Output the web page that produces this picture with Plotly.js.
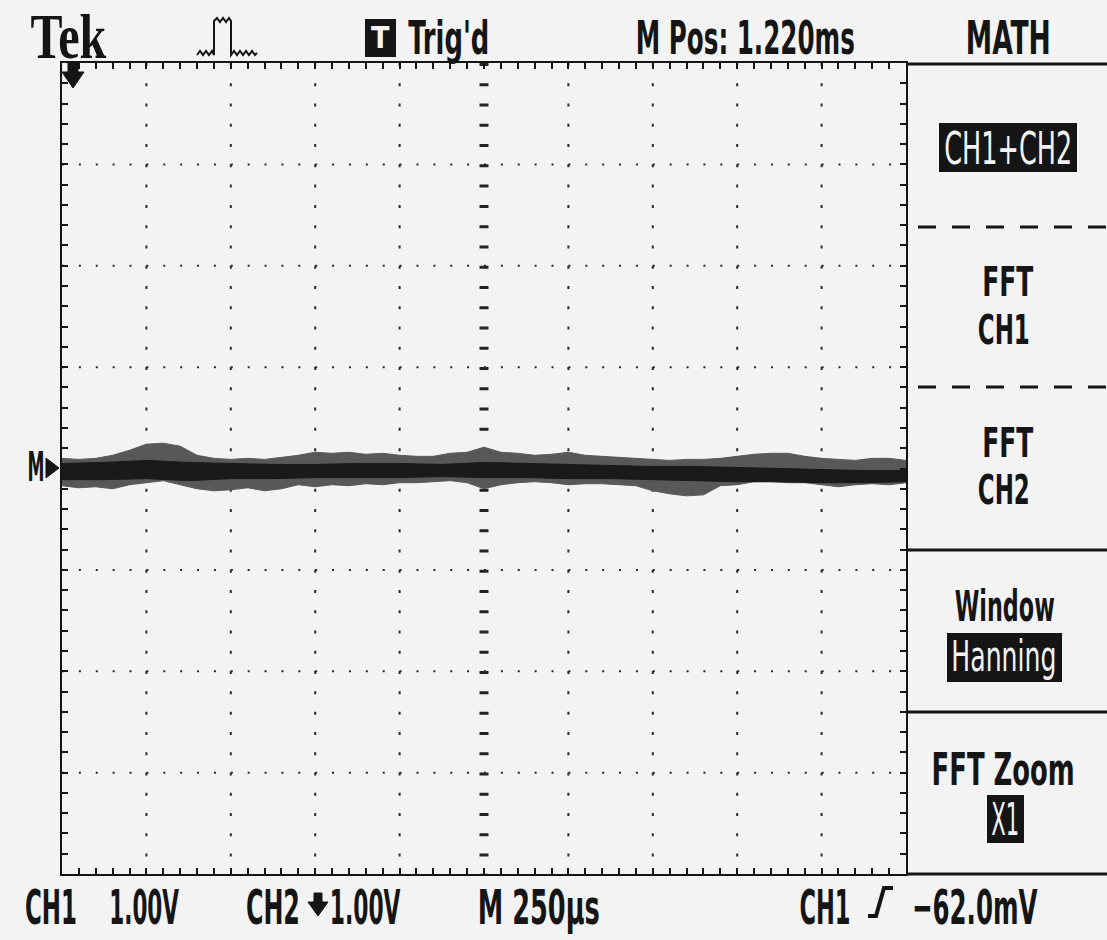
<!DOCTYPE html>
<html>
<head>
<meta charset="utf-8">
<script src="https://cdn.plot.ly/plotly-3.0.1.min.js"></script>
<style>
  html, body { margin: 0; padding: 0; background: #f3f3f3; }
  #scope { width: 1107px; height: 940px; }
</style>
</head>
<body>
<div id="scope"></div>
<script>
// ---- acquired trace (MATH: CH1+CH2), 250 us/div, 1 V/div ----
// noise envelope, sampled every 50 us across the 10 divisions
const envTime  = [0,50,100,150,200,250,300,350,400,450,500,550,600,650,700,750,800,850,900,950,
                  1000,1050,1100,1150,1200,1250,1300,1350,1400,1450,1500,1550,1600,1650,1700,1750,
                  1800,1850,1900,1950,2000,2050,2100,2150,2200,2250,2300,2350,2400,2450,2500];
const envUpper = [0.10,0.09,0.10,0.13,0.18,0.24,0.25,0.22,0.13,0.10,0.09,0.10,0.09,0.11,0.13,0.16,0.15,
                  0.16,0.14,0.15,0.13,0.12,0.12,0.15,0.16,0.21,0.16,0.15,0.13,0.14,0.16,0.13,0.12,0.11,
                  0.10,0.09,0.08,0.09,0.09,0.10,0.12,0.14,0.15,0.15,0.12,0.10,0.09,0.08,0.10,0.10,0.08];
const envLower = [-0.17,-0.19,-0.18,-0.20,-0.16,-0.14,-0.12,-0.16,-0.20,-0.22,-0.21,-0.19,-0.22,-0.20,
                  -0.16,-0.18,-0.16,-0.17,-0.15,-0.16,-0.14,-0.14,-0.13,-0.12,-0.14,-0.20,-0.16,-0.14,
                  -0.13,-0.14,-0.16,-0.15,-0.15,-0.16,-0.17,-0.22,-0.25,-0.27,-0.26,-0.17,-0.16,-0.13,
                  -0.13,-0.14,-0.14,-0.16,-0.18,-0.16,-0.15,-0.16,-0.14];
// dense core of the trace, sampled every 125 us
const coreTime  = [0,125,250,375,500,625,750,875,1000,1125,1250,1375,1500,1625,1750,1875,2000,2125,2250,2375,2500];
const coreUpper = [0.05,0.06,0.08,0.06,0.05,0.04,0.04,0.05,0.05,0.04,0.06,0.05,0.04,0.03,0.02,0.02,0.01,0.00,-0.01,-0.02,-0.02];
const coreLower = [-0.11,-0.11,-0.10,-0.12,-0.10,-0.10,-0.09,-0.09,-0.09,-0.08,-0.09,-0.09,-0.10,-0.10,-0.11,-0.12,-0.13,-0.13,-0.14,-0.14,-0.13];

// ---- screen readouts ----
const brand       = 'Tek';
const trigState   = "Trig'd";
const horizPos    = 'M Pos: 1.220ms';
const menuTitle   = 'MATH';
const ch1Name     = 'CH1';
const ch1Scale    = '1.00V';
const ch2Name     = 'CH2';
const ch2Scale    = '1.00V';
const timebase    = 'M 250\u00b5s';
const trigSource  = 'CH1';
const trigLevel   = '\u221262.0mV';
const menuItems   = ['CH1+CH2', 'FFT', 'CH1', 'FFT', 'CH2', 'Window', 'Hanning', 'FFT Zoom', 'X1'];

// ---- screen geometry (pixels) ----
const W = 1107, H = 940;
const L = 62, R = 906, T = 63, B = 874;
const TDIV = 250, VDIV = 1;
const px = x => (x - L) / (R - L);
const py = y => (B - y) / (B - T);
const pathPx = pts => 'M' + pts.map(p => px(p[0]).toFixed(5) + ',' + py(p[1]).toFixed(5)).join(' L');

const INK = '#151515';
const BG = '#f3f3f3';

// pick the narrowest installed sans face for the instrument lettering
function installed(face) {
  const c = document.createElement('canvas').getContext('2d');
  const probe = 'M Pos: 1.220ms CH1+CH2 Hanning Window';
  c.font = '40px monospace'; const m = c.measureText(probe).width;
  c.font = '40px serif'; const s = c.measureText(probe).width;
  c.font = "40px '" + face + "', monospace"; const fm = c.measureText(probe).width;
  c.font = "40px '" + face + "', serif"; const fs = c.measureText(probe).width;
  return fm === fs && (fm !== m || fs !== s);
}
const sansFaces = ['Liberation Sans Narrow', 'DejaVu Sans Condensed', 'Roboto', 'Liberation Sans'];
const SANS = "'" + (sansFaces.find(installed) || 'DejaVu Sans') + "', sans-serif";
const SERIF = "'Liberation Serif','DejaVu Serif',serif";

// ---- traces ----
const data = [
  { x: envTime, y: envLower, mode: 'lines', line: { color: '#585858', width: 1 }, hoverinfo: 'skip' },
  { x: envTime, y: envUpper, mode: 'lines', line: { color: '#585858', width: 1 }, fill: 'tonexty', fillcolor: '#585858', hoverinfo: 'skip' },
  { x: coreTime, y: coreLower, mode: 'lines', line: { color: '#1a1a1a', width: 1 }, hoverinfo: 'skip' },
  { x: coreTime, y: coreUpper, mode: 'lines', line: { color: '#1a1a1a', width: 1 }, fill: 'tonexty', fillcolor: '#1a1a1a', hoverinfo: 'skip' }
];

// ---- graticule ----
const shapes = [];
const xDivPx = (R - L) / 10, yDivPx = (B - T) / 8;
for (let k = 1; k < 10; k++) {
  const centre = k === 5;
  shapes.push({ type: 'line', xref: 'x', yref: 'y', layer: 'below',
    x0: k * TDIV, x1: k * TDIV, y0: 4 * VDIV, y1: -4 * VDIV,
    line: { color: centre ? '#222' : '#2a2a2a', width: centre ? 9 : 2,
            dash: '3px,' + (yDivPx / 5 - 3).toFixed(2) + 'px' } });
}
for (let k = -3; k <= 3; k++) {
  const centre = k === 0;
  shapes.push({ type: 'line', xref: 'x', yref: 'y', layer: 'below',
    x0: 0, x1: 10 * TDIV, y0: k * VDIV, y1: k * VDIV,
    line: { color: centre ? '#222' : '#2a2a2a', width: centre ? 8 : 2,
            dash: '2px,' + (xDivPx / 5 - 2).toFixed(2) + 'px' } });
}

// markers drawn on the screen
const fillPath = (pts) => ({ type: 'path', xref: 'paper', yref: 'paper', path: pathPx(pts) + ' Z',
  fillcolor: INK, line: { color: INK, width: 1 } });
const strokePath = (pts, w) => ({ type: 'path', xref: 'paper', yref: 'paper', path: pathPx(pts),
  line: { color: INK, width: w } });
const rectPx = (x0, y0, x1, y1, fill) => ({ type: 'rect', xref: 'paper', yref: 'paper',
  x0: px(x0), x1: px(x1), y0: py(y1), y1: py(y0), fillcolor: fill, line: { width: 0 } });
const hline = (x0, x1, y, w, dash) => ({ type: 'line', xref: 'paper', yref: 'paper',
  x0: px(x0), x1: px(x1), y0: py(y), y1: py(y), line: { color: INK, width: w, dash: dash || 'solid' } });

// trigger position arrow (top left)
shapes.push(fillPath([[68,63],[78,63],[78,72],[84,72],[73,88],[62,72],[68,72]]));
// reference marker "M>"
shapes.push(fillPath([[46,458],[46,478],[59,468]]));
// acquisition-mode pulse icon
shapes.push(strokePath([[197,55],[200,51],[203,55],[206,51],[209,55],[212,51],[214,55],[214,21],
  [217,18],[220,22],[223,18],[226,22],[229,18],[231,21],[231,55],[234,51],[237,55],[240,51],
  [243,55],[246,51],[249,55],[252,51],[255,55],[257,53]], 2));
// trigger status box
shapes.push(rectPx(365, 19, 396, 57, INK));
// CH2 offset arrow
shapes.push(fillPath([[314,893],[322,893],[322,902],[328,902],[318,916],[308,902],[314,902]]));
// rising-edge slope symbol
shapes.push(strokePath([[868,916],[876,916],[884,888],[893,888]], 4));

// side menu frame
shapes.push(hline(R, W, 64, 3));
shapes.push(hline(918, W, 227, 3, '18px,16px'));
shapes.push(hline(918, W, 387, 3, '18px,16px'));
shapes.push(hline(R, W, 550, 3));
shapes.push(hline(R, W, 712, 3));
shapes.push(hline(R, W, 874, 3));
// highlighted menu selections
shapes.push(rectPx(939, 123, 1077, 172, INK));
shapes.push(rectPx(947, 633, 1062, 682, INK));
shapes.push(rectPx(987, 795, 1024, 843, INK));

// ---- text ----
const annotations = [];
const fitWidths = [];
function label(text, cx, cy, width, size, color, family, weight) {
  annotations.push({ text: text, xref: 'paper', yref: 'paper', x: px(cx), y: py(cy),
    xanchor: 'center', yanchor: 'middle', showarrow: false,
    font: { family: family || SANS, size: size, color: color || INK, weight: weight || 'bold' } });
  fitWidths.push(width);
}
label(brand, 68, 37, 76, 64, INK, SERIF, 'bold');
label('T', 380.5, 38, 0, 30, BG, SANS, 'bold');
label(trigState, 449, 37.5, 81, 46);
label(horizPos, 745, 37.5, 219, 46);
label(menuTitle, 1009, 37.5, 85, 46);

label(ch1Name, 51, 907, 52, 48);
label(ch1Scale, 144, 907, 70, 48);
label(ch2Name, 273, 907, 54, 48);
label(ch2Scale, 365, 907, 71, 48);
label(timebase, 539, 907, 122, 48);
label(trigSource, 825, 907, 51, 48);
label(trigLevel, 975, 907, 126, 48);

label('M', 36, 467, 17, 40);

label(menuItems[0], 1008, 148, 128, 44, BG, SANS, 'normal');
label(menuItems[1], 1008, 282, 51, 41);
label(menuItems[2], 1004, 330, 52, 41);
label(menuItems[3], 1008, 443, 51, 41);
label(menuItems[4], 1004, 490, 52, 41);
label(menuItems[5], 1005, 606, 100, 43);
label(menuItems[6], 1004, 656, 105, 43, BG, SANS, 'normal');
label(menuItems[7], 1003, 769, 143, 45);
label(menuItems[8], 1005, 819, 28, 44, BG, SANS, 'normal');

const axisCommon = {
  showgrid: false, zeroline: false, showticklabels: false,
  showline: true, mirror: 'allticks', linecolor: INK, linewidth: 2,
  ticks: 'inside', ticklen: 6, tickwidth: 2, tickcolor: INK, fixedrange: true
};

const layout = {
  width: W, height: H,
  margin: { l: L, r: W - R, t: T, b: H - B, pad: 0 },
  paper_bgcolor: BG, plot_bgcolor: BG,
  showlegend: false,
  xaxis: Object.assign({}, axisCommon, { range: [0, 10 * TDIV], dtick: TDIV / 5, tick0: 0 }),
  yaxis: Object.assign({}, axisCommon, { range: [-4 * VDIV, 4 * VDIV], dtick: VDIV / 5, tick0: -4 * VDIV }),
  shapes: shapes,
  annotations: annotations
};

Plotly.newPlot('scope', data, layout, { staticPlot: true, displayModeBar: false }).then(gd => {
  // condense the lettering horizontally to the instrument's narrow character cells
  gd.querySelectorAll('g.annotation').forEach(g => {
    const i = +g.getAttribute('data-index');
    const w = fitWidths[i];
    const t = g.querySelector('text.annotation-text');
    if (!w || !t) return;
    const bb = t.getBBox();
    if (!bb.width) return;
    const s = w / bb.width;
    const cx = bb.x + bb.width / 2;
    t.setAttribute('transform', 'matrix(' + s + ',0,0,1,' + (cx * (1 - s)) + ',0)');
  });
});
</script>
</body>
</html>
